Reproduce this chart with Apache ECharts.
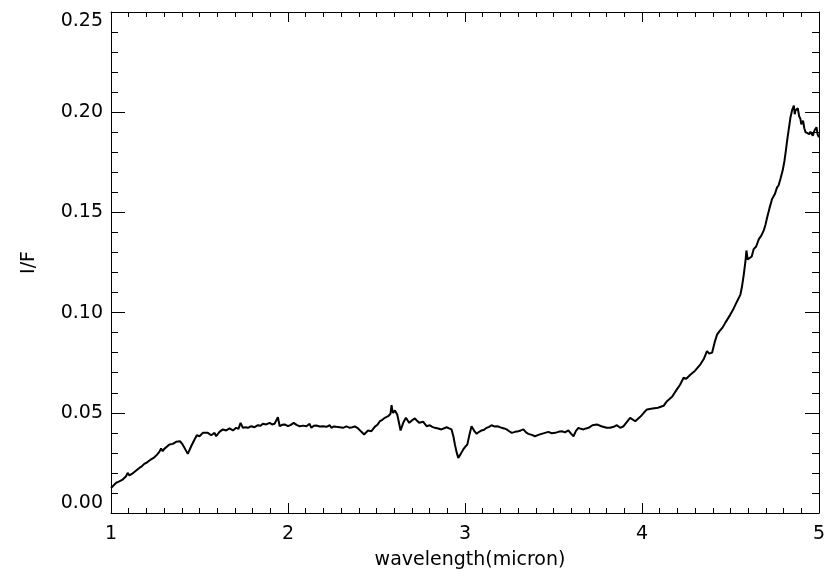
<!DOCTYPE html>
<html>
<head>
<meta charset="utf-8">
<title>I/F spectrum</title>
<script src="https://cdn.jsdelivr.net/npm/echarts@6/dist/echarts.min.js"></script>
<style>
  html, body { margin: 0; padding: 0; background: #fff; }
  #chart { width: 840px; height: 581px; }
</style>
</head>
<body>
<div id="chart"></div>
<script>
const wavelength = [
  1.000, 1.028, 1.047, 1.066, 1.085, 1.094, 1.104, 1.118, 1.132, 1.146,
  1.160, 1.174, 1.188, 1.203, 1.217, 1.231, 1.245, 1.259, 1.273, 1.283,
  1.292, 1.301, 1.311, 1.330, 1.349, 1.368, 1.390, 1.402, 1.415, 1.434,
  1.453, 1.472, 1.485, 1.500, 1.519, 1.547, 1.566, 1.585, 1.594, 1.613,
  1.632, 1.651, 1.670, 1.689, 1.707, 1.720, 1.732, 1.745, 1.760, 1.773,
  1.792, 1.811, 1.830, 1.845, 1.858, 1.877, 1.896, 1.910, 1.924, 1.943,
  1.953, 1.967, 1.981, 2.000, 2.016, 2.032, 2.048, 2.066, 2.085, 2.104,
  2.122, 2.132, 2.146, 2.160, 2.179, 2.198, 2.217, 2.236, 2.245, 2.259,
  2.273, 2.292, 2.311, 2.330, 2.349, 2.363, 2.377, 2.396, 2.415, 2.430,
  2.441, 2.452, 2.462, 2.471, 2.490, 2.505, 2.519, 2.533, 2.547, 2.566,
  2.579, 2.585, 2.590, 2.594, 2.604, 2.617, 2.627, 2.636, 2.651, 2.666,
  2.685, 2.700, 2.717, 2.729, 2.741, 2.752, 2.764, 2.783, 2.801, 2.815,
  2.830, 2.848, 2.867, 2.896, 2.910, 2.924, 2.935, 2.943, 2.952, 2.962,
  2.976, 2.990, 3.001, 3.013, 3.025, 3.037, 3.052, 3.066, 3.080, 3.094,
  3.108, 3.122, 3.136, 3.150, 3.165, 3.179, 3.193, 3.207, 3.221, 3.235,
  3.250, 3.264, 3.283, 3.301, 3.315, 3.330, 3.345, 3.358, 3.377, 3.396,
  3.415, 3.433, 3.452, 3.471, 3.490, 3.509, 3.528, 3.547, 3.565, 3.584,
  3.600, 3.613, 3.627, 3.641, 3.655, 3.669, 3.684, 3.698, 3.720, 3.745,
  3.770, 3.800, 3.820, 3.840, 3.858, 3.877, 3.896, 3.915, 3.933, 3.962,
  3.990, 4.010, 4.028, 4.060, 4.090, 4.122, 4.141, 4.170, 4.197, 4.215,
  4.235, 4.250, 4.273, 4.300, 4.330, 4.350, 4.367, 4.380, 4.396, 4.410,
  4.424, 4.440, 4.455, 4.471, 4.485, 4.499, 4.515, 4.528, 4.545, 4.556,
  4.565, 4.575, 4.585, 4.590, 4.597, 4.603, 4.620, 4.631, 4.645, 4.660,
  4.675, 4.688, 4.698, 4.707, 4.720, 4.735, 4.750, 4.763, 4.772, 4.782,
  4.795, 4.805, 4.813, 4.820, 4.830, 4.839, 4.848, 4.858, 4.863, 4.867,
  4.875, 4.880, 4.888, 4.895, 4.900, 4.910, 4.917, 4.924, 4.935, 4.945,
  4.952, 4.960, 4.965, 4.975, 4.986, 4.992, 5.000
];

const iOverF = [
  0.0125, 0.0150, 0.0158, 0.0167, 0.0183, 0.0200, 0.0188, 0.0195, 0.0205, 0.0215,
  0.0225, 0.0233, 0.0245, 0.0252, 0.0262, 0.0270, 0.0278, 0.0290, 0.0305, 0.0322,
  0.0308, 0.0320, 0.0317, 0.0342, 0.0345, 0.0355, 0.0358, 0.0345, 0.0325, 0.0295,
  0.0333, 0.0367, 0.0388, 0.0383, 0.0400, 0.0400, 0.0388, 0.0400, 0.0383, 0.0405,
  0.0417, 0.0412, 0.0422, 0.0412, 0.0425, 0.0420, 0.0450, 0.0425, 0.0428, 0.0425,
  0.0433, 0.0428, 0.0438, 0.0435, 0.0445, 0.0442, 0.0450, 0.0442, 0.0445, 0.0478,
  0.0433, 0.0440, 0.0442, 0.0433, 0.0440, 0.0450, 0.0440, 0.0433, 0.0436, 0.0433,
  0.0445, 0.0425, 0.0435, 0.0437, 0.0432, 0.0433, 0.0430, 0.0438, 0.0425, 0.0432,
  0.0430, 0.0428, 0.0425, 0.0432, 0.0425, 0.0428, 0.0432, 0.0422, 0.0405, 0.0392,
  0.0400, 0.0412, 0.0405, 0.0408, 0.0430, 0.0440, 0.0458, 0.0465, 0.0475, 0.0483,
  0.0495, 0.0538, 0.0510, 0.0500, 0.0512, 0.0492, 0.0450, 0.0412, 0.0450, 0.0475,
  0.0450, 0.0462, 0.0472, 0.0460, 0.0450, 0.0455, 0.0455, 0.0433, 0.0438, 0.0430,
  0.0425, 0.0422, 0.0417, 0.0428, 0.0422, 0.0417, 0.0380, 0.0342, 0.0305, 0.0275,
  0.0295, 0.0317, 0.0330, 0.0342, 0.0390, 0.0433, 0.0410, 0.0395, 0.0405, 0.0412,
  0.0415, 0.0425, 0.0430, 0.0438, 0.0432, 0.0433, 0.0430, 0.0425, 0.0422, 0.0417,
  0.0408, 0.0400, 0.0405, 0.0408, 0.0412, 0.0417, 0.0402, 0.0395, 0.0390, 0.0383,
  0.0390, 0.0395, 0.0400, 0.0405, 0.0398, 0.0400, 0.0405, 0.0408, 0.0402, 0.0412,
  0.0395, 0.0383, 0.0410, 0.0425, 0.0420, 0.0417, 0.0422, 0.0425, 0.0438, 0.0442,
  0.0433, 0.0425, 0.0425, 0.0430, 0.0438, 0.0425, 0.0433, 0.0455, 0.0475, 0.0458,
  0.0480, 0.0500, 0.0517, 0.0522, 0.0525, 0.0535, 0.0558, 0.0580, 0.0617, 0.0640,
  0.0675, 0.0670, 0.0690, 0.0710, 0.0742, 0.0770, 0.0808, 0.0795, 0.0800, 0.0850,
  0.0890, 0.0910, 0.0925, 0.0950, 0.0970, 0.0990, 0.1015, 0.1040, 0.1070, 0.1090,
  0.1130, 0.1190, 0.1260, 0.1310, 0.1265, 0.1267, 0.1280, 0.1317, 0.1330, 0.1367,
  0.1385, 0.1410, 0.1440, 0.1475, 0.1520, 0.1567, 0.1590, 0.1625, 0.1635, 0.1667,
  0.1710, 0.1758, 0.1810, 0.1858, 0.1920, 0.1975, 0.2010, 0.2033, 0.1990, 0.2008,
  0.2000, 0.2020, 0.1980, 0.1967, 0.1940, 0.1958, 0.1920, 0.1900, 0.1905, 0.1890,
  0.1903, 0.1900, 0.1883, 0.1910, 0.1925, 0.1890, 0.1875
];

const xTicks = [1, 2, 3, 4, 5];
const yTicks = [0.00, 0.05, 0.10, 0.15, 0.20, 0.25];

const font = 'DejaVu Sans';
const ink = '#000';

const chart = echarts.init(document.getElementById('chart'), null, { renderer: 'canvas' });

// IDL-style box: ticks point inward on all four sides
const boxX = (pos, showLabels) => ({
  type: 'value',
  position: pos,
  min: xTicks[0],
  max: xTicks[xTicks.length - 1],
  interval: 1,
  axisLine: { show: true, onZero: false, lineStyle: { color: ink, width: 1 } },
  axisTick: { show: true, inside: true, length: 10, lineStyle: { color: ink } },
  minorTick: { show: true, splitNumber: 10, length: 5, lineStyle: { color: ink } },
  axisLabel: { show: showLabels, color: ink, fontFamily: font, fontSize: 19, margin: 12 },
  splitLine: { show: false }
});

const boxY = (pos, showLabels) => ({
  type: 'value',
  position: pos,
  min: yTicks[0],
  max: yTicks[yTicks.length - 1],
  interval: 0.05,
  axisLine: { show: true, onZero: false, lineStyle: { color: ink, width: 1 } },
  axisTick: { show: true, inside: true, length: 14, lineStyle: { color: ink } },
  minorTick: { show: true, splitNumber: 5, length: 7, lineStyle: { color: ink } },
  axisLabel: {
    show: showLabels, color: ink, fontFamily: font, fontSize: 19, margin: 8,
    verticalAlignMinLabel: 'bottom',
    verticalAlignMaxLabel: 'top',
    formatter: v => v.toFixed(2)
  },
  splitLine: { show: false }
});

const option = {
  animation: false,
  backgroundColor: '#fff',
  grid: { left: 111, right: 21, top: 12, bottom: 68 },
  xAxis: [
    Object.assign(boxX('bottom', true), {
      name: 'wavelength(micron)',
      nameLocation: 'middle',
      nameGap: 38,
      nameTextStyle: { color: ink, fontFamily: font, fontSize: 19, padding: [0, 0, 0, 10] }
    }),
    boxX('top', false)
  ],
  yAxis: [
    Object.assign(boxY('left', true), {
      name: 'I/F',
      nameLocation: 'middle',
      nameGap: 72,
      nameTextStyle: { color: ink, fontFamily: font, fontSize: 19 }
    }),
    boxY('right', false)
  ],
  series: [
    {
      type: 'line',
      xAxisIndex: 0,
      yAxisIndex: 0,
      data: wavelength.map((w, i) => [w, iOverF[i]]),
      showSymbol: false,
      lineStyle: { color: ink, width: 2 }
    }
  ]
};

chart.setOption(option);
</script>
</body>
</html>
